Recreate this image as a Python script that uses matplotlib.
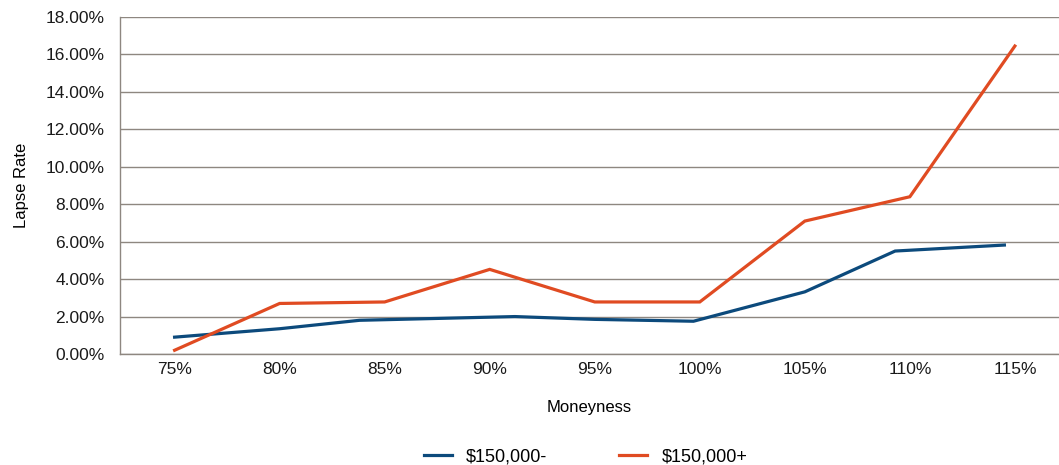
import matplotlib
matplotlib.use("Agg")
import matplotlib.pyplot as plt
from matplotlib.ticker import FuncFormatter

plt.rcParams['font.family'] = ['Liberation Sans', 'DejaVu Sans']

# Moneyness categories (percent)
moneyness = [75, 80, 85, 90, 95, 100, 105, 110, 115]
tick_labels = ['75%', '80%', '85%', '90%', '95%', '100%', '105%', '110%', '115%']

# $150,000- series (its points do not sit exactly on the categories)
low_x = [75, 80, 83.8, 91.2, 95, 99.7, 105, 109.3, 114.5]
low_rate = [0.0090, 0.0135, 0.0180, 0.0200, 0.0185, 0.0175, 0.0332, 0.0550, 0.0582]

# $150,000+ series
high_rate = [0.0020, 0.0270, 0.0278, 0.0452, 0.0278, 0.0278, 0.0710, 0.0840, 0.1645]

blue = '#0c4a7c'
orange = '#e04b22'
grid_col = '#8e8780'

fig = plt.figure(figsize=(10.59, 4.65), dpi=100)
ax = fig.add_axes([0.1133, 0.2387, 0.8867, 0.7247])

ax.plot(low_x, low_rate, color=blue, lw=2.3, label='$150,000-', solid_joinstyle='miter')
ax.plot(moneyness, high_rate, color=orange, lw=2.3, label='$150,000+', solid_joinstyle='miter')

ax.set_xlim(72.4, 117.1)
ax.set_ylim(0, 0.18)
ax.set_yticks([i * 0.02 for i in range(10)])
ax.yaxis.set_major_formatter(FuncFormatter(lambda v, p: '{:.2f}%'.format(v * 100)))
ax.set_xticks(moneyness)
ax.set_xticklabels(tick_labels)

ax.grid(axis='y', color=grid_col, lw=1)
ax.set_axisbelow(True)
for s in ['top', 'right']:
    ax.spines[s].set_visible(False)
for s in ['left', 'bottom']:
    ax.spines[s].set_color(grid_col)
    ax.spines[s].set_linewidth(1)
ax.tick_params(length=0, labelsize=12.5, labelcolor='#1a1a1a')
ax.tick_params(axis='y', pad=11)
ax.tick_params(axis='x', pad=6)

ax.set_xlabel('Moneyness', fontsize=12, labelpad=16)
ax.set_ylabel('Lapse Rate', fontsize=12, labelpad=12)

fig.legend(loc='center', bbox_to_anchor=(0.553, 0.018), ncol=2, frameon=False,
           fontsize=13, handlelength=1.55, handletextpad=0.8, columnspacing=4.0)

fig.savefig('out.png', dpi=100)
